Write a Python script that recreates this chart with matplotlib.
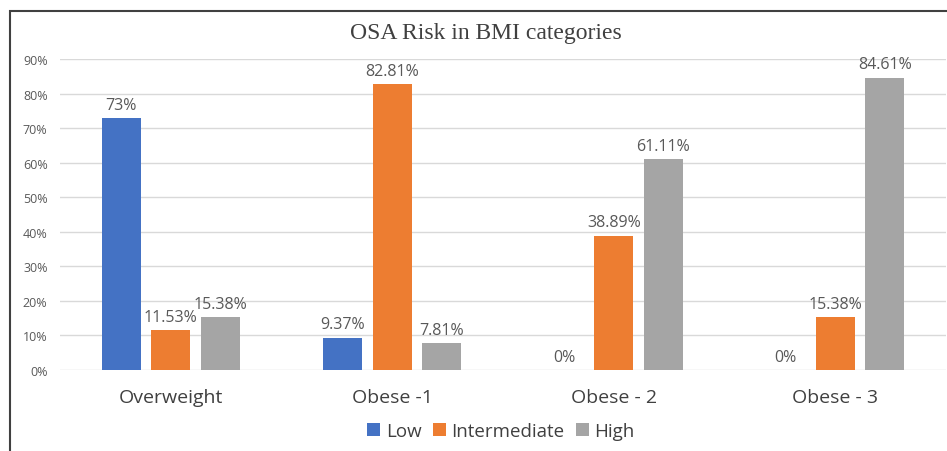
import numpy as np
import matplotlib
matplotlib.use("Agg")
import matplotlib.pyplot as plt
from matplotlib.patches import Rectangle

categories = ["Overweight", "Obese -1", "Obese - 2", "Obese - 3"]
series = ["Low", "Intermediate", "High"]
low = [73, 9.37, 0, 0]
intermediate = [11.53, 82.81, 38.89, 15.38]
high = [15.38, 7.81, 61.11, 84.61]
labels_low = ["73%", "9.37%", "0%", "0%"]
labels_int = ["11.53%", "82.81%", "38.89%", "15.38%"]
labels_high = ["15.38%", "7.81%", "61.11%", "84.61%"]
colors = ["#4472C4", "#ED7D31", "#A5A5A5"]

plt.rcParams['font.family'] = ['Open Sans', 'DejaVu Sans']

fig = plt.figure(figsize=(9.47, 4.52), dpi=100)
ax = fig.add_axes([60 / 947, 81 / 452, 886 / 947, 311 / 452])

x = np.arange(len(categories))
w = 0.176
step = 0.223
text_c = "#595959"

for i, (vals, labs) in enumerate(zip([low, intermediate, high],
                                     [labels_low, labels_int, labels_high])):
    pos = x + (i - 1) * step
    ax.bar(pos, vals, width=w, color=colors[i], label=series[i], zorder=3)
    for px, v, lab in zip(pos, vals, labs):
        ax.text(px, v + 1.5, lab, ha="center", va="bottom", fontsize=11.5,
                color=text_c)

ax.set_xlim(-0.5, 3.5)
ax.set_ylim(0, 90)
ax.set_yticks(np.arange(0, 91, 10))
ax.set_yticklabels([f"{t}%" for t in range(0, 91, 10)], fontsize=9, color=text_c)
ax.set_xticks(x)
ax.set_xticklabels(categories, fontsize=14, color="#404040")
ax.tick_params(axis="both", length=0)
ax.tick_params(axis="x", pad=13)
ax.tick_params(axis="y", pad=9)
ax.grid(axis="y", color="#D9D9D9", linewidth=1, zorder=0)
for s in ax.spines.values():
    s.set_visible(False)

ax.legend(loc="center", bbox_to_anchor=(501 / 947, 20 / 452),
          bbox_transform=fig.transFigure, ncol=3, frameon=False,
          fontsize=13.5, handlelength=0.7, handleheight=0.7,
          handletextpad=0.3, columnspacing=0.6, labelcolor="#404040")

fig.text(486 / 947, 1 - 34 / 452, "OSA Risk in BMI categories", ha="center",
         va="center", fontsize=17, family="Liberation Serif", color="#404040")

# outer frame of the pasted chart
fig.patches.append(Rectangle((10 / 947, -0.1), 1.2, (452 - 12) / 452 + 0.1,
                             transform=fig.transFigure, fill=False,
                             edgecolor="#404040", linewidth=1.5))

fig.savefig("out.png", dpi=100)
